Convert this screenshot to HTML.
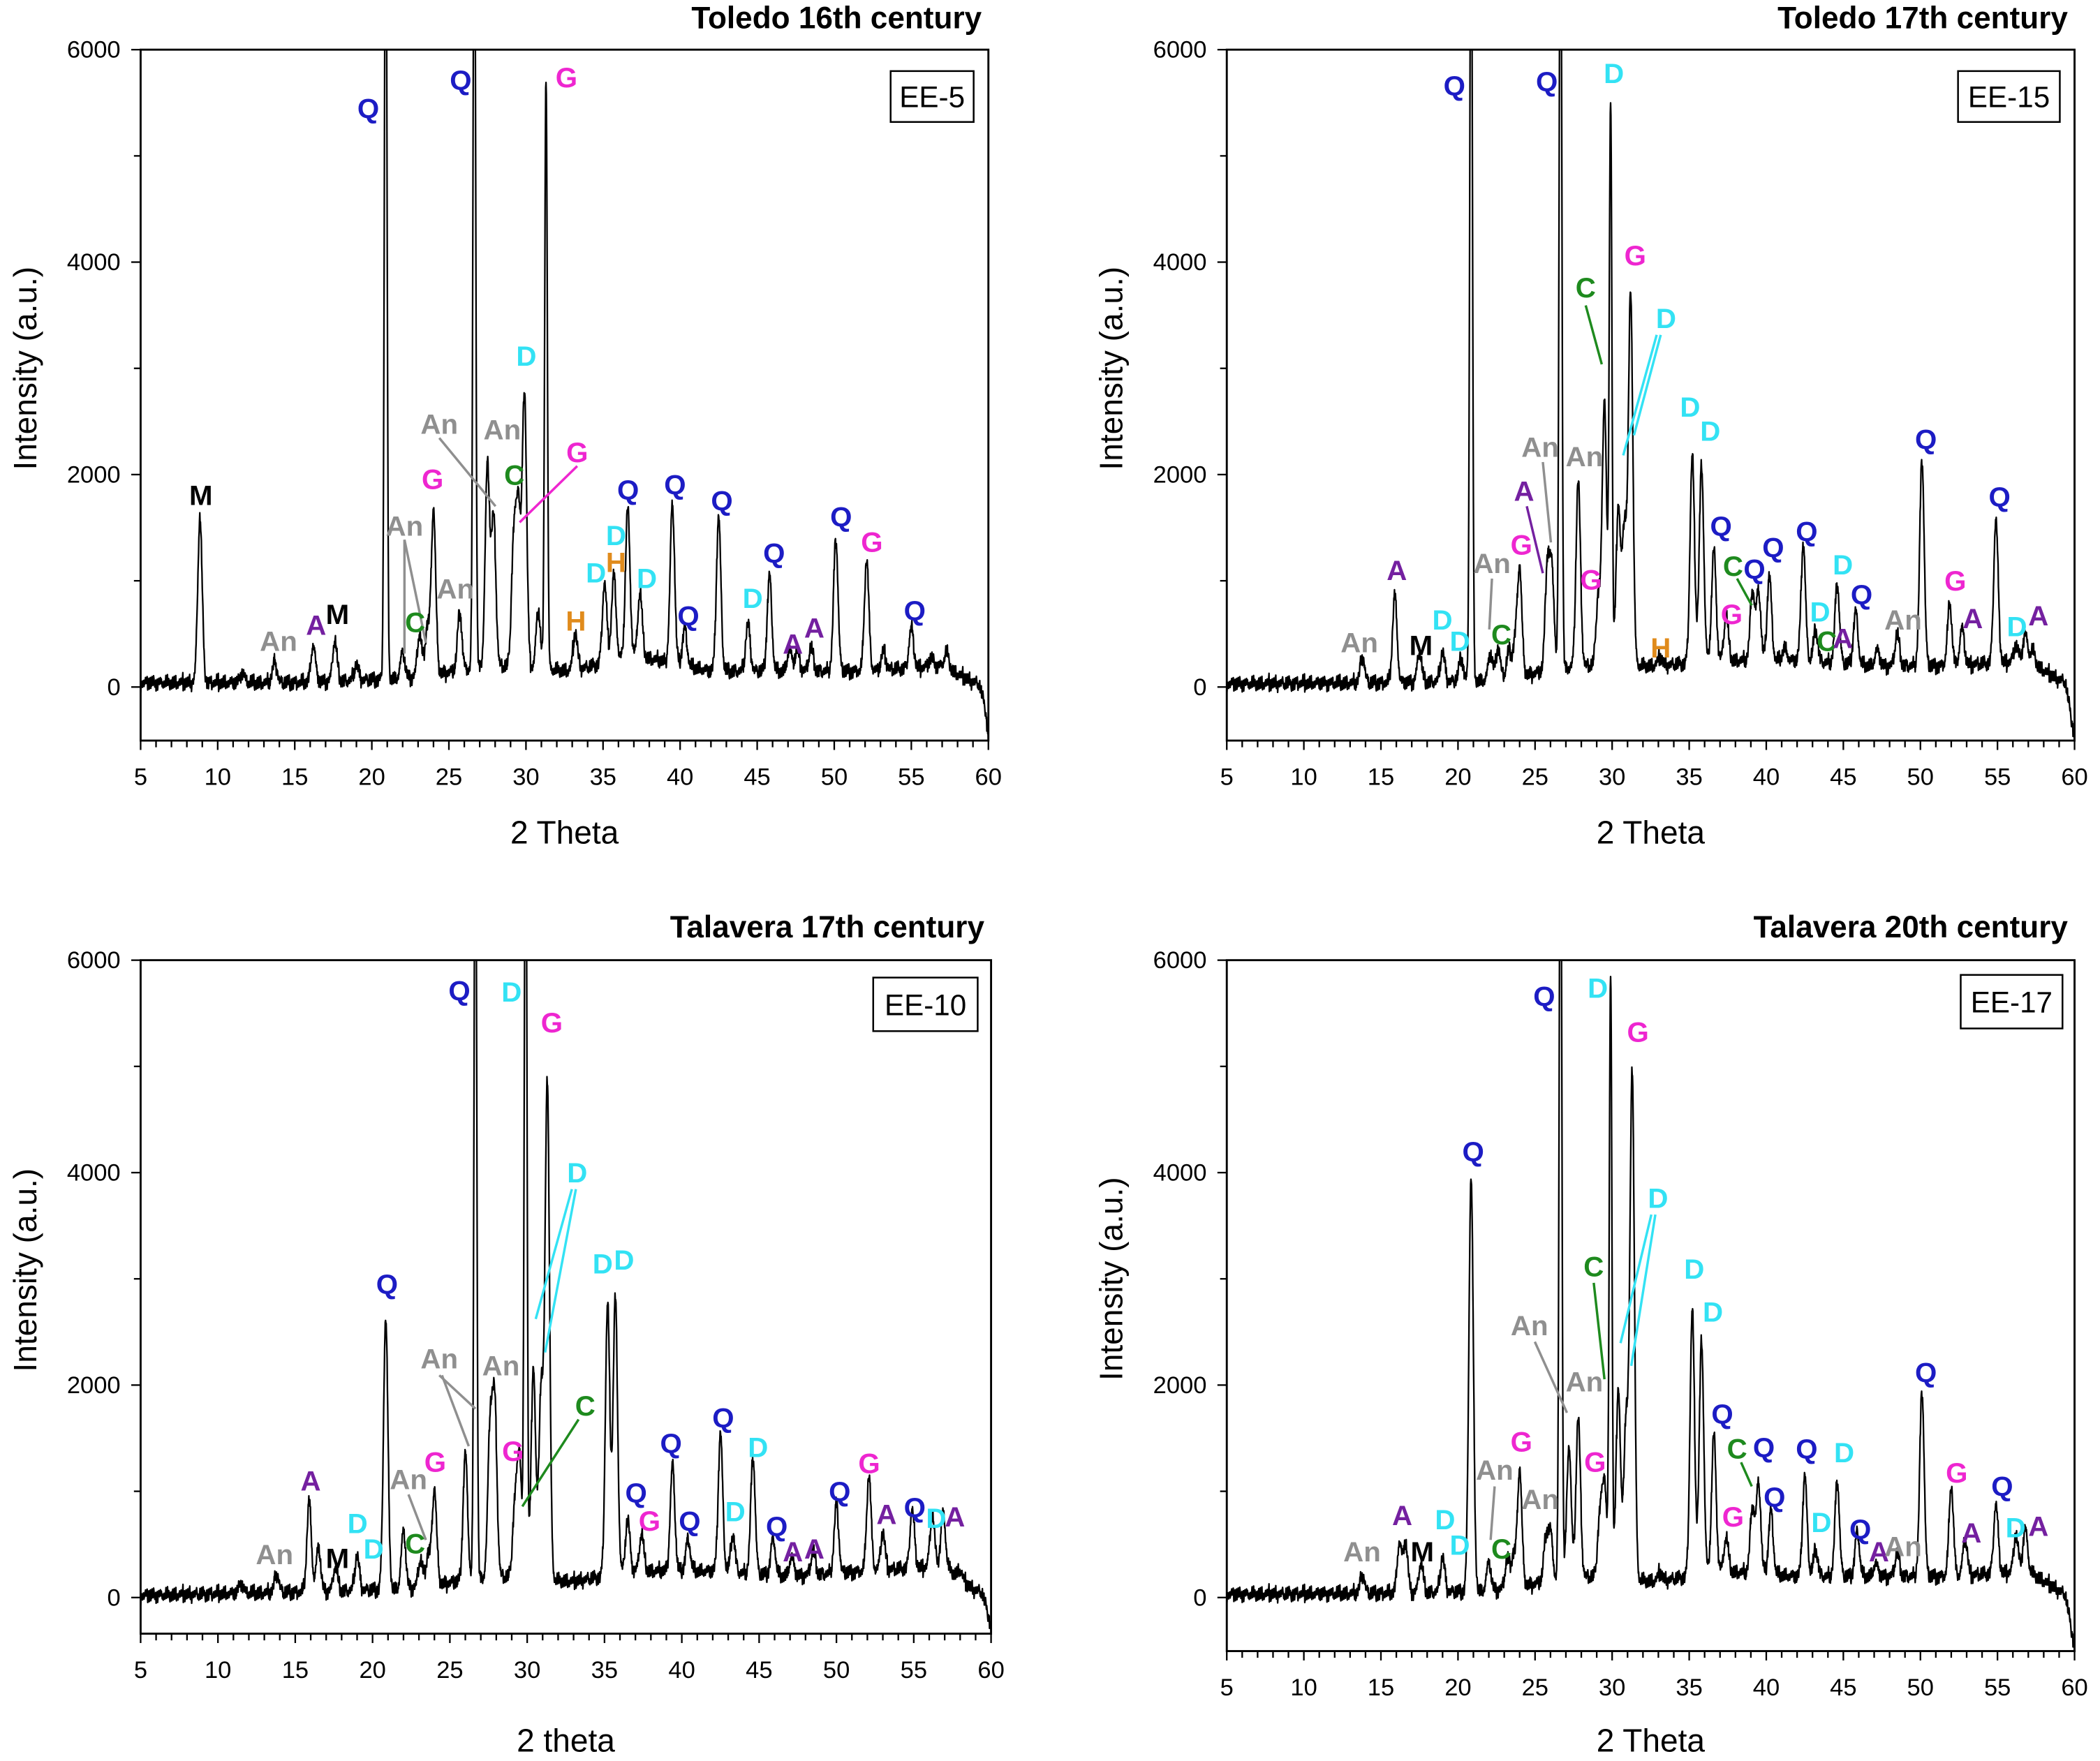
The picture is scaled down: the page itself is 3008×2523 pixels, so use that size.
<!DOCTYPE html>
<html><head><meta charset="utf-8"><style>
html,body{margin:0;padding:0;background:#fff;}
svg{display:block;font-family:"Liberation Sans",Arial,sans-serif;}
</style></head><body>
<svg id="chart" width="3008" height="2523" viewBox="0 0 1568 1315" xmlns="http://www.w3.org/2000/svg"></svg>
<script>
// ---- data ----
const xTicks=[5,10,15,20,25,30,35,40,45,50,55,60];
const yTicks=[0,2000,4000,6000];
const p1Pos=[8.85,11.6,13.7,16.2,17.6,19,20.9,22,23.1,23.6,24,25.7,26.65,27.5,27.9,29.2,29.5,29.9,30.8,31.3,33.2,35.1,35.7,36.6,37.4,39.5,40.3,42.5,44.4,45.8,47.1,47.6,48.5,50.1,52.1,53.2,55,56.3,57.3];
const p1H=[1550,100,200,350,380,150,8000,250,400,450,1550,550,8000,1900,1400,1150,1500,2600,550,5600,350,750,800,1400,600,1500,350,1450,450,900,200,200,220,1250,1050,180,380,80,150];
const p2Pos=[13.8,15.9,17.5,19,20.2,20.85,22.1,22.6,23.3,23.7,24,25.8,26.1,26.65,27.8,29.1,29.5,29.9,30.4,30.8,31.2,33.1,35.2,35.8,36.6,37.4,39.1,39.5,40.2,41.2,42.4,43.2,44.6,45.8,47.2,48.5,50.1,51.9,52.7,54.9,56.2,56.8,57.3];
const p2H=[250,820,280,280,220,8000,250,300,250,300,1000,1000,900,8000,1750,650,2500,5300,1500,1300,3500,80,1950,1850,1050,420,650,650,800,120,1100,300,750,500,150,300,1950,580,350,1350,150,250,120];
const p3Pos=[11.5,13.8,15.9,16.5,17.6,19,20.85,22,23.1,23.6,24,26,26.65,27.6,27.9,29.2,29.5,29.9,30.4,30.9,31.3,35.2,35.7,36.5,37.4,39.4,40.4,42.5,43.3,44.6,45.9,47.1,48.5,50,52.1,53,54.9,56.2,56.9,58];
const p3H=[100,180,850,420,230,330,2550,550,250,300,900,1200,8000,1400,1600,650,1150,8000,2000,1800,4700,2550,2600,500,350,1000,300,1300,350,1100,350,180,220,650,900,350,550,500,500,80];
const p4Pos=[13.8,16.2,16.6,17.6,19,20.85,22,23.2,23.6,24,25.7,26,26.65,27.2,27.8,29.2,29.5,29.9,30.4,30.9,31.3,33.1,35.2,35.8,36.6,37.4,39.1,39.5,40.3,42.5,43.2,44.6,45.9,47.1,48.5,50.1,52,52.9,54.9,56.2,56.8];
const p4H=[180,470,470,280,330,3900,270,270,300,1100,400,450,8000,1250,1500,550,900,5700,1800,1500,4800,80,2500,2200,1300,320,620,850,600,950,250,900,420,120,220,1750,850,350,650,350,400];
const bgX=[5,15,22,28,33,37,42,47,52,57,58.8,59.4,59.8,60];
const bg1=[40,40,80,200,150,300,150,150,150,200,60,30,-200,-500];
const bg2=[30,40,60,200,200,250,250,200,200,250,80,50,-300,-500];
const bg3=[20,50,80,200,150,250,250,200,250,300,80,50,-150,-300];
const bg4=[30,40,60,200,150,250,200,200,200,250,80,30,-300,-500];
const panels=[
 {name:"toledo-16th",pos:p1Pos,h:p1H,bg:bg1,x0:105,x1:738,yTop:37,y0:513,yBot:553,title:"Toledo 16th century",titleY:21,sample:"EE-5",box:[665,53,62,38],xt:"2 Theta",xtY:630},
 {name:"toledo-17th",pos:p2Pos,h:p2H,bg:bg2,x0:916,x1:1549,yTop:37,y0:513,yBot:553,title:"Toledo 17th century",titleY:21,sample:"EE-15",box:[1462,53,76,38],xt:"2 Theta",xtY:630},
 {name:"talavera-17th",pos:p3Pos,h:p3H,bg:bg3,x0:105,x1:740,yTop:717,y0:1193,yBot:1220,title:"Talavera 17th century",titleY:700,sample:"EE-10",box:[652,730,78,40],xt:"2 theta",xtY:1308},
 {name:"talavera-20th",pos:p4Pos,h:p4H,bg:bg4,x0:916,x1:1549,yTop:717,y0:1193,yBot:1233,title:"Talavera 20th century",titleY:700,sample:"EE-17",box:[1464,728,76,40],xt:"2 Theta",xtY:1308}
];
const C={Q:"#1c1cc4",G:"#ee26d0",D:"#33e2f4",An:"#8f8f8f",A:"#7420a0",M:"#000",C:"#1e8a1e",H:"#e08b1c"};
const labels=[
[["M",150,369],["An",208,478],["A",236,466],["M",252,458],["Q",275,80],["Q",344,59],["G",423,57],["D",393,265],["An",328,316],["An",375,320],["G",323,357],["C",384,354],["G",431,337],["An",302,392],["An",340,439],["C",310,464],["D",445,427],["H",460,419],["D",460,399],["D",483,431],["H",430,463],["Q",469,365],["Q",504,361],["Q",539,373],["Q",514,459],["Q",578,412],["D",562,446],["A",592,480],["A",608,468],["Q",628,385],["G",651,404],["Q",683,455]],
[["An",1015,479],["A",1043,425],["M",1061,481],["D",1077,462],["D",1090,478],["Q",1086,63],["Q",1155,60],["D",1205,54],["C",1184,214],["G",1221,190],["D",1244,237],["An",1150,333],["An",1183,340],["A",1138,366],["G",1136,406],["An",1114,420],["C",1121,473],["G",1188,432],["H",1240,483],["D",1262,303],["D",1277,321],["Q",1285,392],["C",1294,422],["Q",1310,424],["Q",1324,408],["G",1293,458],["Q",1349,396],["D",1376,421],["Q",1390,443],["D",1359,456],["C",1364,478],["A",1376,476],["An",1421,462],["Q",1438,327],["G",1460,433],["A",1473,461],["Q",1493,370],["D",1506,467],["A",1522,459]],
[["An",205,1160],["A",232,1105],["M",252,1163],["D",267,1137],["D",279,1156],["Q",289,958],["An",305,1104],["C",310,1152],["G",325,1091],["Q",343,739],["D",382,740],["G",412,763],["An",328,1014],["An",374,1019],["G",383,1083],["D",431,875],["C",437,1049],["D",450,943],["D",466,940],["Q",475,1114],["G",485,1135],["Q",501,1077],["Q",515,1135],["Q",540,1058],["D",566,1080],["D",549,1128],["Q",580,1139],["A",592,1158],["A",608,1156],["Q",627,1113],["G",649,1092],["A",662,1130],["Q",683,1125],["D",699,1133],["A",713,1132]],
[["An",1017,1158],["A",1047,1131],["M",1062,1158],["D",1079,1134],["D",1090,1153],["Q",1100,859],["An",1116,1097],["C",1121,1156],["G",1136,1076],["An",1150,1119],["Q",1153,743],["D",1193,737],["G",1223,770],["An",1142,989],["An",1183,1031],["G",1191,1091],["C",1190,945],["D",1238,894],["D",1265,947],["D",1279,979],["Q",1286,1055],["C",1297,1081],["Q",1317,1080],["Q",1325,1117],["G",1294,1132],["Q",1349,1081],["D",1377,1084],["D",1360,1136],["Q",1389,1141],["A",1403,1158],["An",1421,1154],["Q",1438,1024],["G",1461,1099],["A",1472,1144],["Q",1495,1109],["D",1505,1140],["A",1522,1139]]
];
const leaders=[
[["An",328,327,370,378],["An",302,403,302,488],["An",302,403,318,480],["G",431,348,388,390]],
[["C",1184,228,1196,272],["D",1237,250,1212,340],["D",1240,250,1220,325],["An",1152,345,1158,405],["A",1140,378,1152,428],["An",1114,432,1112,470],["C",1297,432,1308,452]],
[["An",328,1027,355,1052],["An",330,1027,350,1080],["D",427,888,400,985],["D",430,888,407,1010],["C",432,1060,390,1125],["An",305,1116,318,1150]],
[["An",1146,1002,1170,1055],["C",1190,958,1198,1030],["D",1233,907,1210,1003],["D",1236,907,1218,1020],["An",1116,1110,1113,1150],["C",1300,1092,1308,1110]]
];
// ---- render ----
const svg=document.getElementById('chart');
const NS="http://www.w3.org/2000/svg";
function mk(tag,attrs,parent){const e=document.createElementNS(NS,tag);for(const k in attrs)e.setAttribute(k,attrs[k]);(parent||svg).appendChild(e);return e;}
function interp(xs,ys,x){for(let i=0;i<xs.length-1;i++){if(x<=xs[i+1]){const t=(x-xs[i])/(xs[i+1]-xs[i]);return ys[i]+t*(ys[i+1]-ys[i]);}}return ys[ys.length-1];}
panels.forEach((P,pi)=>{
 const g=mk('g',{});
 
 
 const sx=v=>P.x0+(v-5)*(P.x1-P.x0)/55;
 const sy=v=>P.y0-(v)*(P.y0-P.yTop)/6000;
 const cid='clip'+pi;
 const cp=mk('clipPath',{id:cid},g);mk('rect',{x:P.x0,y:P.yTop,width:P.x1-P.x0,height:P.yBot-P.yTop},cp);
 let d="";let k=0;
 for(let x=5;x<=60.0001;x+=0.02){
  let v=interp(bgX,P.bg,x)+((k*7)%5-2)*14+((k*13)%11-5)*7+((k%23)-11)*3;
  for(let i=0;i<P.pos.length;i++){const w=P.h[i]>5000?0.2:0.34;const dx=(x-P.pos[i])/w;if(Math.abs(dx)<6)v+=P.h[i]*Math.exp(-4*0.693*dx*dx);}
  d+=(k?"L":"M")+sx(x).toFixed(2)+","+sy(v).toFixed(2);k++;
 }
 const ln=mk('path',{d:d,fill:'none',stroke:'#000','stroke-width':1.2,'stroke-linejoin':'round','clip-path':'url(#'+cid+')'},g);
 
 
 const fr=mk('rect',{x:P.x0,y:P.yTop,width:P.x1-P.x0,height:P.yBot-P.yTop,fill:'none',stroke:'#000','stroke-width':1.5},g);
 
 
 for(let v=5;v<=60;v++){const major=v%5===0;mk('line',{x1:sx(v),x2:sx(v),y1:P.yBot,y2:P.yBot+(major?7:5),stroke:'#000','stroke-width':1.2},g);}
 xTicks.forEach(v=>{const t=mk('text',{x:sx(v),y:P.yBot+33,'font-size':18,'text-anchor':'middle'},g);t.textContent=v;
  
  });
 for(let v=0;v<=6000;v+=1000){mk('line',{x1:P.x0,x2:P.x0-(v%2000===0?7:5),y1:sy(v),y2:sy(v),stroke:'#000','stroke-width':1.2},g);}
 yTicks.forEach(v=>{const t=mk('text',{x:P.x0-15,y:sy(v)+6,'font-size':18,'text-anchor':'end'},g);t.textContent=v;
  
  });
 const xt=mk('text',{x:(P.x0+P.x1)/2,y:P.xtY,'font-size':24,'text-anchor':'middle'},g);xt.textContent=P.xt;
 
 
 const ycy=(P.yTop+P.yBot)/2-20;
 const yt=mk('text',{x:P.x0-78,y:ycy,'font-size':24,'text-anchor':'middle',transform:'rotate(-90 '+(P.x0-78)+' '+ycy+')'},g);yt.textContent="Intensity (a.u.)";
 
 
 const tt=mk('text',{x:P.x1-5,y:P.titleY,'font-size':23,'font-weight':'bold','text-anchor':'end'},g);tt.textContent=P.title;
 
 
 const b=P.box;
 const br=mk('rect',{x:b[0],y:b[1],width:b[2],height:b[3],fill:'#fff',stroke:'#000','stroke-width':1.3},g);
 
 
 const bt=mk('text',{x:b[0]+b[2]/2,y:b[1]+b[3]/2+8,'font-size':22,'text-anchor':'middle'},g);bt.textContent=P.sample;
 
 
 leaders[pi].forEach(L=>{const l=mk('line',{x1:L[1],y1:L[2],x2:L[3],y2:L[4],stroke:C[L[0]],'stroke-width':1.8},g);
  
  });
 labels[pi].forEach(L=>{const t=mk('text',{x:L[1],y:L[2]+8,'font-size':21,'font-weight':'bold','text-anchor':'middle',fill:C[L[0]]},g);t.textContent=L[0];
  
  });
});
</script>
</body></html>
